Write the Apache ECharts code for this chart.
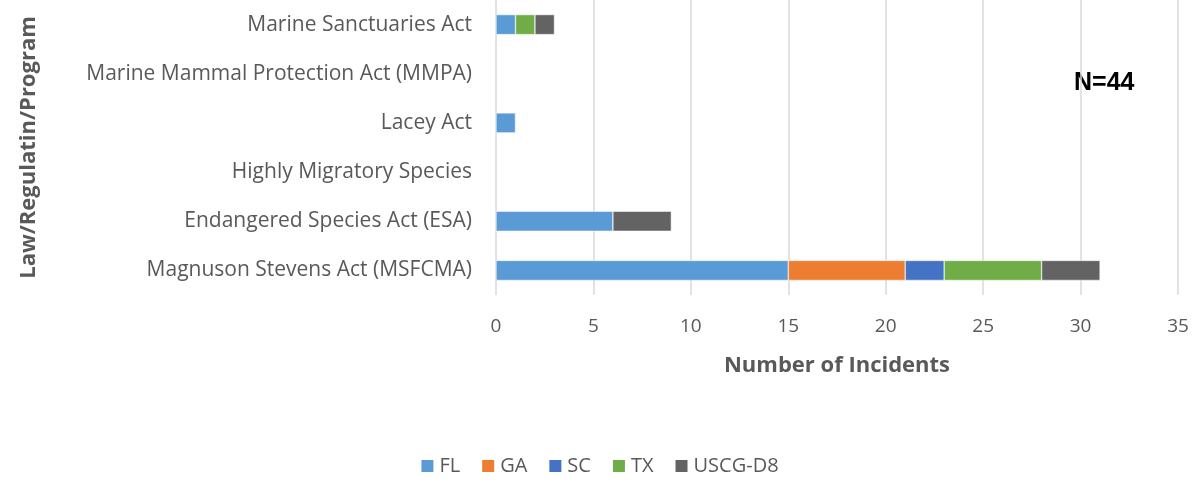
<!DOCTYPE html>
<html>
<head>
<meta charset="utf-8">
<script src="https://cdn.jsdelivr.net/npm/echarts@6/dist/echarts.min.js"></script>
<style>
  html, body { margin: 0; padding: 0; background: #fff; }
  #main { width: 1198px; height: 483px; }
</style>
</head>
<body>
<div id="main"></div>
<script>
// categories, bottom to top
var laws = [
    'Magnuson Stevens Act (MSFCMA)',
    'Endangered Species Act (ESA)',
    'Highly Migratory Species',
    'Lacey Act',
    'Marine Mammal Protection Act (MMPA)',
    'Marine Sanctuaries Act'
];

var fl    = [15, 6, 0, 1, 0, 1];
var ga    = [6, 0, 0, 0, 0, 0];
var sc    = [2, 0, 0, 0, 0, 0];
var tx    = [5, 0, 0, 0, 0, 1];
var uscg  = [3, 3, 0, 0, 0, 1];

var seriesNames = ['FL', 'GA', 'SC', 'TX', 'USCG-D8'];
var seriesColors = ['#5b9bd5', '#ed7d31', '#4472c4', '#70ad47', '#636363'];
var seriesData = [fl, ga, sc, tx, uscg];

var font = '"Open Sans", Lato, sans-serif';

var myChart = echarts.init(document.getElementById('main'));

var series = [];
for (var i = 0; i < seriesNames.length; i++) {
    series.push({
        name: seriesNames[i],
        type: 'bar',
        stack: 'total',
        barWidth: 20,
        data: seriesData[i].map(function(v) { return v === 0 ? null : v; }),
        itemStyle: { color: seriesColors[i], borderColor: '#fff', borderWidth: 0.5 }
    });
}

var option = {
    animation: false,
    color: seriesColors,
    textStyle: { fontFamily: font },
    grid: {
        left: 496,
        right: 20,
        top: 0,
        bottom: 188
    },
    legend: {
        data: seriesNames,
        bottom: 2,
        left: 'center',
        itemWidth: 14,
        itemHeight: 14,
        itemGap: 20,
        icon: 'rect',
        textStyle: { fontSize: 20, color: '#595959', fontFamily: font }
    },
    xAxis: {
        type: 'value',
        min: 0,
        max: 35,
        interval: 5,
        name: 'Number of Incidents',
        nameLocation: 'middle',
        nameGap: 60,
        nameTextStyle: { fontSize: 22, fontWeight: 'bold', color: '#595959', fontFamily: font },
        axisLine: { show: false },
        axisTick: { show: false },
        axisLabel: { fontSize: 19, color: '#595959', margin: 22, fontFamily: font },
        splitLine: { lineStyle: { color: '#d9d9d9', width: 1.5 } }
    },
    yAxis: {
        type: 'category',
        data: laws,
        name: 'Law/Regulatin/Program',
        nameLocation: 'middle',
        nameGap: 456,
        nameRotate: 90,
        nameTextStyle: { fontSize: 22, fontWeight: 'bold', color: '#595959', fontFamily: font },
        axisLine: { show: false },
        axisTick: { show: false },
        axisLabel: { fontSize: 21, color: '#595959', margin: 24, fontFamily: font }
    },
    graphic: [{
        type: 'text',
        left: 1074,
        top: 71,
        style: {
            text: 'N=44',
            font: 'bold 25px "Liberation Sans", Arial, sans-serif',
            fill: '#000'
        }
    }],
    series: series
};

myChart.setOption(option);
</script>
</body>
</html>
